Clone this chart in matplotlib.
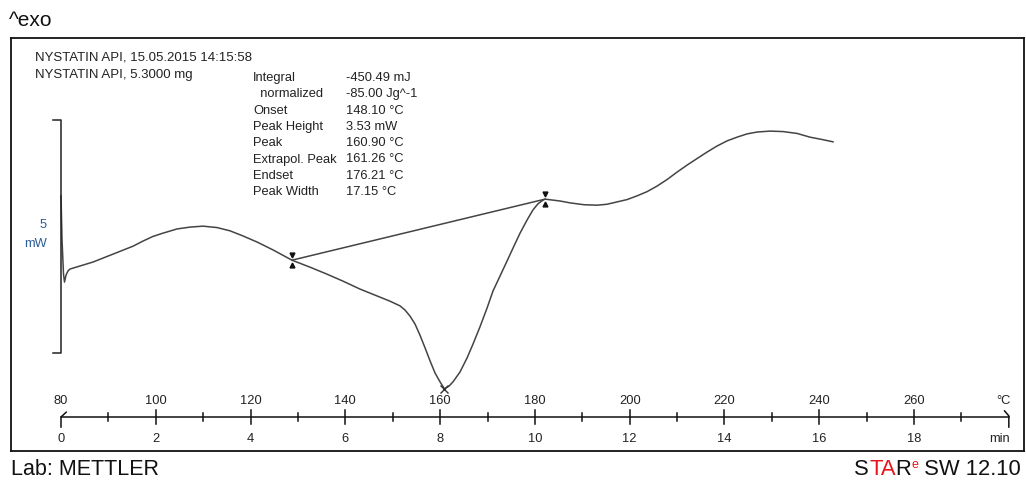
import numpy as np
import matplotlib.pyplot as plt
from matplotlib.transforms import blended_transform_factory, ScaledTranslation

plt.rcParams['font.family'] = ['Liberation Sans', 'DejaVu Sans']

W, H = 1026, 481

# DSC curve: sample temperature (degC) and heat flow (mW, offset arbitrary)
temp_c = [80.00, 80.21, 80.53, 80.74, 81.06, 81.48, 81.90, 86.75, 90.97, 95.19,
          97.30, 99.41, 101.52, 104.48, 107.22, 109.96, 112.92, 115.66, 118.40, 121.36,
          124.74, 128.74, 132.54, 136.13, 139.51, 143.09, 146.26, 149.42, 151.53, 152.59,
          153.64, 154.70, 155.75, 156.81, 157.87, 158.92, 159.97, 160.90, 161.90, 162.72,
          164.19, 165.67, 166.94, 168.41, 169.89, 171.16, 172.64, 174.11, 175.38, 176.86,
          178.33, 179.60, 180.65, 181.71, 182.13, 185.30, 187.41, 190.36, 193.10, 195.21,
          197.32, 199.43, 201.54, 203.65, 205.77, 207.88, 209.99, 212.10, 214.20, 216.32,
          218.43, 220.54, 222.65, 224.76, 226.87, 229.61, 232.36, 235.31, 238.05, 240.58,
          242.90]
heat_flow_mw = [1.14, 0.21, -0.54, -0.71, -0.56, -0.47, -0.43, -0.28, -0.11, 0.06,
                0.17, 0.27, 0.34, 0.43, 0.47, 0.49, 0.46, 0.39, 0.28, 0.15,
                -0.02, -0.24, -0.39, -0.54, -0.69, -0.86, -0.99, -1.12, -1.22, -1.31,
                -1.44, -1.61, -1.85, -2.12, -2.40, -2.66, -2.85, -3.00, -2.94, -2.85,
                -2.64, -2.34, -2.04, -1.67, -1.27, -0.90, -0.58, -0.26, 0.02, 0.34,
                0.62, 0.84, 0.97, 1.05, 1.07, 1.03, 0.99, 0.95, 0.94, 0.96,
                1.01, 1.06, 1.14, 1.23, 1.35, 1.49, 1.65, 1.80, 1.94, 2.08,
                2.21, 2.32, 2.40, 2.47, 2.51, 2.53, 2.52, 2.48, 2.40, 2.35,
                2.30]

# integration baseline and peak
base_t = [128.74, 182.13]
base_mw = [-0.24, 1.07]
peak_t = 160.9
peak_mw = -3.00

heating_rate = 10.0  # K/min
t0 = 80.0
temp_ticks = [80, 100, 120, 140, 160, 180, 200, 220, 240, 260]
time_ticks = [0, 2, 4, 6, 8, 10, 12, 14, 16, 18]
minor_min = [1, 3, 5, 7, 9, 11, 13, 15, 17, 19]
axis_end_min = 20

scale_mw = 5
scale_bottom = -2.23

header = ['NYSTATIN API, 15.05.2015 14:15:58', 'NYSTATIN API, 5.3000 mg']
res_labels = ['Integral', '  normalized', 'Onset', 'Peak Height', 'Peak',
              'Extrapol. Peak', 'Endset', 'Peak Width']
res_values = ['-450.49 mJ', '-85.00 Jg^-1', '148.10 °C', '3.53 mW', '160.90 °C',
              '161.26 °C', '176.21 °C', '17.15 °C']

fs_small = 9.3
txt = '#222222'


def px(x, y):
    return x / W, 1 - y / H


def min2c(m):
    return t0 + heating_rate * m


fig = plt.figure(figsize=(W / 100, H / 100), dpi=100)
ax = fig.add_axes([11 / W, 1 - 452 / H, 1013 / W, 413 / H])
ax.set_xlim(69.45, 283.2)
ax.set_ylim(-4.335, 4.528)
ax.set_xticks([])
ax.set_yticks([])
for s in ax.spines.values():
    s.set_linewidth(1.3)
    s.set_color('#111111')

lc = '#444444'
ax.plot(temp_c, heat_flow_mw, color=lc, lw=1.1, solid_joinstyle='round')
ax.plot(base_t, base_mw, color=lc, lw=1.1)

# limit markers
up = ax.transData + ScaledTranslation(0, 3.5 / 72, fig.dpi_scale_trans)
dn = ax.transData + ScaledTranslation(0, -3.5 / 72, fig.dpi_scale_trans)
for t, m in zip(base_t, base_mw):
    ax.plot(t, m, marker='v', ms=3.5, color='#111111', transform=up)
    ax.plot(t, m, marker='^', ms=3.5, color='#111111', transform=dn)
ax.plot(peak_t, peak_mw, marker='x', ms=6, mew=1, color='#333333')

# scale bar
sb_top = scale_bottom + scale_mw
ax.plot([78.3, 80, 80, 78.3], [sb_top, sb_top, scale_bottom, scale_bottom],
        color='#222222', lw=1.1)
mid = scale_bottom + scale_mw / 2
ax.annotate(str(scale_mw), (77.0, mid), xytext=(0, 9), textcoords='offset points',
            ha='right', va='center', fontsize=fs_small, color='#2b5d95')
ax.annotate('mW', (77.0, mid), xytext=(0, -5), textcoords='offset points',
            ha='right', va='center', fontsize=fs_small, color='#2b5d95')

# combined temperature / time axis
tr = blended_transform_factory(ax.transData, ax.transAxes)
ya = 0.0823
ax.plot([t0, min2c(axis_end_min)], [ya, ya], color='#111111', lw=1.1, transform=tr)
for tc in temp_ticks[1:]:
    ax.plot([tc, tc], [0.0993, 0.0654], color='#111111', lw=1.1, transform=tr)
for m in minor_min:
    ax.plot([min2c(m)] * 2, [0.092, 0.0726], color='#111111', lw=1.1, transform=tr)
ax.plot([t0, t0, t0 + 1.1], [0.058, ya, 0.094], color='#111111', lw=1.1, transform=tr)
te = min2c(axis_end_min)
ax.plot([te - 0.9, te, te], [0.097, 0.085, 0.058], color='#111111', lw=1.1, transform=tr)

for tc in temp_ticks:
    ax.text(tc, 0.1235, str(tc), transform=tr, ha='center', va='center',
            fontsize=fs_small, color=txt)
for m in time_ticks:
    ax.text(min2c(m), 0.0315, str(m), transform=tr, ha='center', va='center',
            fontsize=fs_small, color=txt)
ax.text(te + 0.3, 0.1235, '°C', transform=tr, ha='right', va='center',
        fontsize=fs_small, color=txt)
ax.text(te + 0.3, 0.0315, 'min', transform=tr, ha='right', va='center',
        fontsize=fs_small, color=txt)

# text blocks
for i, h in enumerate(header):
    fig.text(*px(35, 58 + 17 * i), h, ha='left', va='center', fontsize=9.5, color=txt)
for i, (lab, val) in enumerate(zip(res_labels, res_values)):
    y = 78 + 16.3 * i
    fig.text(*px(253, y), lab, ha='left', va='center', fontsize=fs_small, color=txt)
    fig.text(*px(346, y), val, ha='left', va='center', fontsize=fs_small, color=txt)

fig.text(*px(9, 20), '^exo', ha='left', va='center', fontsize=15, color='#111111')
fig.text(*px(11, 470), 'Lab: METTLER', ha='left', va='center', fontsize=15.5, color='#111111')

# STARe SW 12.10 logo text, right aligned
r = fig.canvas.get_renderer()
parts = [('S', '#111111', 15.8, 0), ('TA', '#e8141c', 15.8, 0), ('R', '#111111', 15.8, 0),
         ('e', '#e8141c', 9, 5), (' SW 12.10', '#111111', 15.8, 0)]
widths = []
for s, c, fs, dy in parts:
    t = fig.text(0, 0, s.replace(' ', '\u00a0'), fontsize=fs)
    widths.append(t.get_window_extent(r).width)
    t.remove()
x = 1021 - sum(widths)
for (s, c, fs, dy), w in zip(parts, widths):
    fig.text(x / W, 1 - (470 - dy) / H, s.replace(' ', '\u00a0'), ha='left', va='center',
             fontsize=fs, color=c)
    x += w

fig.savefig('out.png', dpi=100)
